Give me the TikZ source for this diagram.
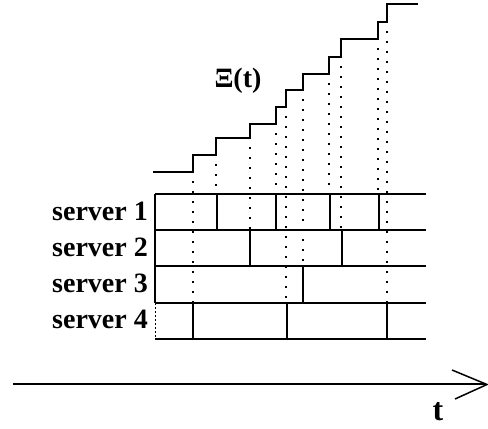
\documentclass[tikz,border=0pt]{standalone}
\usepackage{fontspec}
\setmainfont{Liberation Serif}
\begin{document}
\begin{tikzpicture}[x=1pt,y=-1pt,
  grid/.style={line width=1.4pt},
  stair/.style={line width=2.4pt,line join=miter},
  guide/.style={line width=1.8pt,dash pattern=on 1.8pt off 8.2pt},
  rowlabel/.style={anchor=base east,inner sep=0pt,font=\fontsize{28}{28}\selectfont\bfseries},
  axis/.style={line width=1.5pt}]
\useasboundingbox (0,0) rectangle (488,429);

% rows of the schedule
\foreach \y in {194,230,266,303,339}
  \draw[grid] (155,\y) -- (426,\y);
\draw[grid] (155,194) -- (155,303);
\draw[line width=0.9pt,dash pattern=on 2pt off 2pt] (155,303) -- (155,339);

% job boundaries per server
\foreach \x in {217,276,330,379} \draw[grid] (\x,194) -- (\x,230);
\foreach \x in {250,342} \draw[grid] (\x,230) -- (\x,266);
\foreach \x in {303} \draw[grid] (\x,266) -- (\x,303);
\foreach \x in {193,287,387} \draw[grid] (\x,303) -- (\x,339);

% staircase Xi(t)
\draw[stair] (153,172) -- (193,172) -- (193,155) -- (216,155) -- (216,138)
  -- (250,138) -- (250,124) -- (276,124) -- (276,107) -- (286,107)
  -- (286,90) -- (303,90) -- (303,74) -- (329,74) -- (329,57)
  -- (341,57) -- (341,39) -- (378,39) -- (378,22) -- (387,22)
  -- (387,4) -- (418,4);

% dotted guides from each step down to its server boundary
\foreach \x/\a/\b in {193/181/303, 216/164/194, 250/147/230, 276/133/194,
                      286/116/303, 303/99/266, 329/83/194, 341/66/230,
                      378/48/194, 387/31/303}
  \draw[guide] (\x,\a) -- (\x,\b);

% labels
\node[rowlabel] (s1) at (148,220) {server 1};
\node[rowlabel] (s2) at (148,256) {server 2};
\node[rowlabel] (s3) at (148,292.5) {server 3};
\node[rowlabel] (s4) at (148,328.5) {server 4};
\node[anchor=base,inner sep=0pt,font=\fontsize{28}{28}\selectfont\bfseries] (xi) at (238,87) {Ξ(t)};

% time axis
\coordinate (a0) at (13,384);
\coordinate (a1) at (486,384);
\draw[axis] (a0) -- (a1);
\draw[axis] (452,370) -- (487,384.5) -- (455,399);
\node[anchor=base,inner sep=0pt,font=\fontsize{32}{32}\selectfont\bfseries] (t) at (438,420) {t};
\end{tikzpicture}
\end{document}
